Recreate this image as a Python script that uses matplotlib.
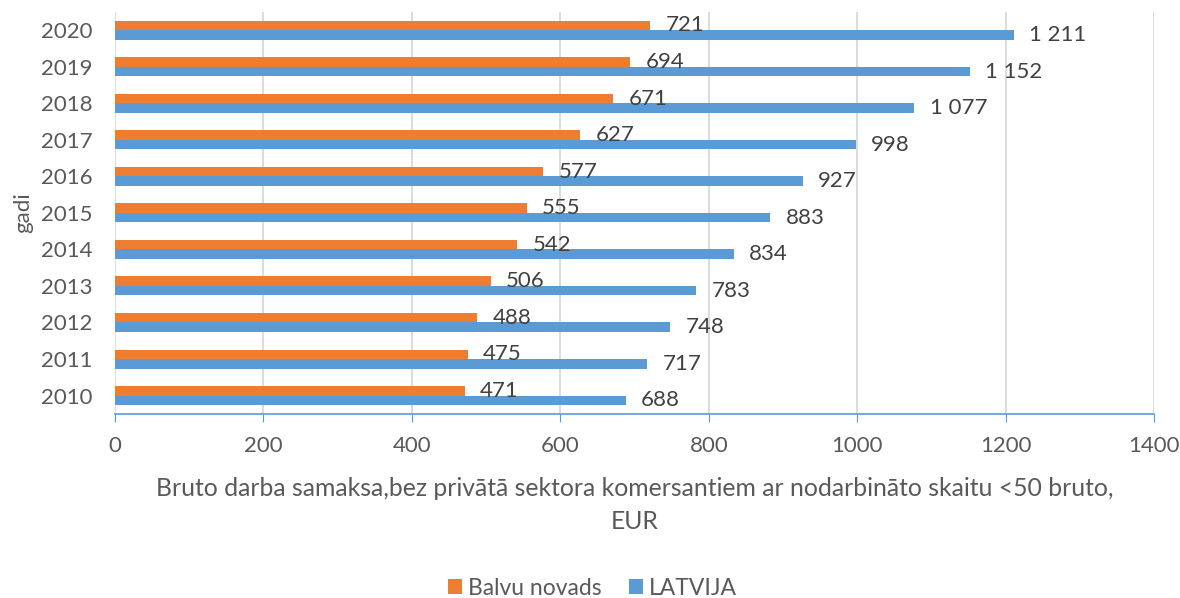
import matplotlib.pyplot as plt
import numpy as np

plt.rcParams['font.family'] = ['Lato', 'DejaVu Sans']

# data
years = ['2010', '2011', '2012', '2013', '2014', '2015', '2016', '2017', '2018', '2019', '2020']
balvu = [471, 475, 488, 506, 542, 555, 577, 627, 671, 694, 721]
latvija = [688, 717, 748, 783, 834, 883, 927, 998, 1077, 1152, 1211]

ORANGE = '#ED7D31'
BLUE = '#5B9BD5'
TXT = '#595959'

def fmt(v):
    return f'{v:,}'.replace(',', ' ')

fig = plt.figure(figsize=(11.8, 5.98), dpi=100)
ax = fig.add_axes([0.0975, 0.308, 0.8805, 0.672])

y = np.arange(len(years))
h = 0.26
b1 = ax.barh(y + h / 2, balvu, height=h, color=ORANGE, label='Balvu novads', zorder=3)
b2 = ax.barh(y - h / 2, latvija, height=h, color=BLUE, label='LATVIJA', zorder=3)

for bars, vals in ((b1, balvu), (b2, latvija)):
    for bar, v in zip(bars, vals):
        ax.annotate(fmt(v), (bar.get_width(), bar.get_y() + bar.get_height() / 2),
                    xytext=(11, 0), textcoords='offset points', va='center', ha='left',
                    fontsize=16, color='#404040')

ax.set_xlim(0, 1400)
ax.set_ylim(-0.5, len(years) - 0.5)
ax.set_xticks(np.arange(0, 1401, 200))
ax.set_yticks(y)
ax.set_yticklabels(years)
ax.tick_params(axis='y', length=0, labelsize=16, labelcolor=TXT, pad=16)
ax.tick_params(axis='x', length=6, color=BLUE, labelsize=16, labelcolor=TXT, pad=10)
ax.grid(axis='x', color='#D9D9D9', linewidth=1.3, zorder=0)
for s in ('top', 'right', 'left'):
    ax.spines[s].set_visible(False)
ax.spines['bottom'].set_color(BLUE)
ax.spines['bottom'].set_linewidth(1.2)

ax.set_ylabel('gadi', fontsize=16, color=TXT, labelpad=6)
ax.set_xlabel('Bruto darba samaksa,bez privātā sektora komersantiem ar nodarbināto skaitu <50 bruto,\nEUR',
              fontsize=17.8, color=TXT, labelpad=15, linespacing=1.55)

fig.legend(handles=[b1, b2], loc='center', bbox_to_anchor=(0.502, 0.016), ncol=2, frameon=False,
           fontsize=16.5, labelcolor=TXT, handlelength=0.62, handleheight=0.62, handletextpad=0.25,
           columnspacing=1.2)

fig.savefig('out.png', dpi=100)
